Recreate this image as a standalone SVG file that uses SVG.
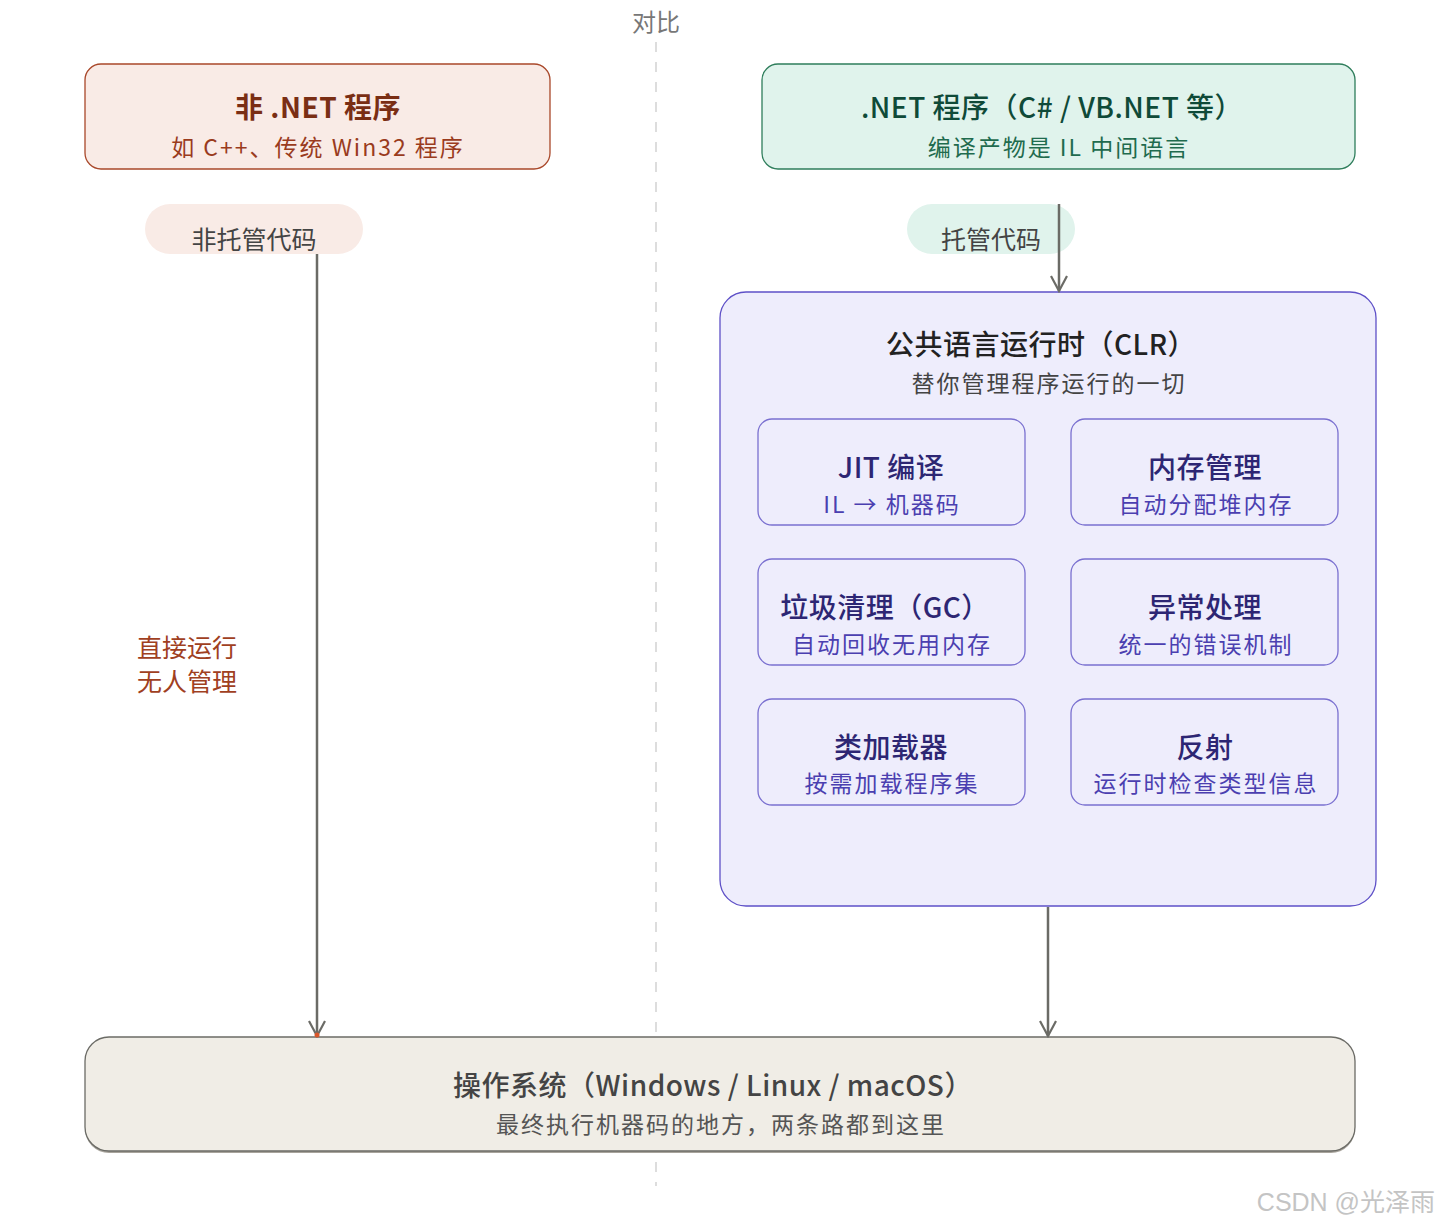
<svg xmlns="http://www.w3.org/2000/svg" width="1440" height="1228" viewBox="0 0 1440 1228">
<defs>
<style>
text{font-family:"Noto Sans CJK SC","Noto Sans",sans-serif;text-anchor:middle;dominant-baseline:central}
.t{font-size:28px;font-weight:500;letter-spacing:0.5px}
.s{font-size:23px;letter-spacing:2px}
.inner{fill:#eeedfc;stroke:#7a70d0;stroke-width:1.3}
.it{fill:#2d2673;font-size:28px;font-weight:500;letter-spacing:0.5px}
.is{fill:#4b3fb0;font-size:23px;letter-spacing:2px}
.conn{stroke:#6b6b66;stroke-width:2.5;fill:none}
</style>
<marker id="arr" viewBox="0 0 20 20" refX="18" refY="10" markerWidth="20" markerHeight="20" markerUnits="userSpaceOnUse" orient="auto">
<path d="M3 2 L18 10 L3 18" fill="none" stroke="#6b6b66" stroke-width="2.2"/>
</marker>
</defs>
<rect width="1440" height="1228" fill="#ffffff"/>

<g id="divider">
<line x1="656" y1="42" x2="656" y2="1186" stroke="#dddddd" stroke-width="2" stroke-dasharray="10 10"/>
<text x="656" y="20" style="font-size:24px;fill:#777">对比</text>
</g>

<g id="non-net">
<rect x="85" y="64" width="465" height="105" rx="16" fill="#f9ebe6" stroke="#a9482a" stroke-width="1.3"/>
<text class="t" x="318" y="106" style="fill:#7a2e14;font-weight:700">非 .NET 程序</text>
<text class="s" x="318" y="146" style="fill:#9a3b1d">如 C++、传统 Win32 程序</text>
</g>

<g id="net">
<rect x="762" y="64" width="593" height="105" rx="16" fill="#e0f3ec" stroke="#2e7d5b" stroke-width="1.3"/>
<text class="t" x="1052" y="106" style="fill:#0f4a38">.NET 程序（C# / VB.NET 等）</text>
<text class="s" x="1059" y="146" style="fill:#1f6b4e">编译产物是 IL 中间语言</text>
</g>

<g id="label-unmanaged">
<rect x="145" y="204" width="218" height="50" rx="25" fill="#f9ebe6"/>
<text x="254" y="238" style="fill:#444;font-size:25px">非托管代码</text>
</g>

<g id="label-managed">
<rect x="907" y="204" width="168" height="50" rx="25" fill="#e0f3ec"/>
<text x="991" y="238" style="fill:#444;font-size:25px">托管代码</text>
</g>

<g id="direct-label">
<text x="137" y="646" style="text-anchor:start;font-size:25px;fill:#a0401f">直接运行</text>
<text x="137" y="680" style="text-anchor:start;font-size:25px;fill:#a0401f">无人管理</text>
</g>

<g id="clr">
<rect x="720" y="292" width="656" height="614" rx="26" fill="#eeedfc" stroke="#5e50c7" stroke-width="1.3"/>
<text class="t" x="1041" y="343" style="fill:#222">公共语言运行时（CLR）</text>
<text class="s" x="1049" y="382" style="fill:#444">替你管理程序运行的一切</text>
</g>

<g id="jit">
<rect class="inner" x="758" y="419" width="267" height="106" rx="14"/>
<text class="it" x="891" y="466">JIT 编译</text>
<text class="is" x="892" y="503">IL → 机器码</text>
</g>
<g id="mem">
<rect class="inner" x="1071" y="419" width="267" height="106" rx="14"/>
<text class="it" x="1205" y="466">内存管理</text>
<text class="is" x="1206" y="503">自动分配堆内存</text>
</g>
<g id="gc">
<rect class="inner" x="758" y="559" width="267" height="106" rx="14"/>
<text class="it" x="885" y="606">垃圾清理（GC）</text>
<text class="is" x="892" y="643">自动回收无用内存</text>
</g>
<g id="exc">
<rect class="inner" x="1071" y="559" width="267" height="106" rx="14"/>
<text class="it" x="1205" y="606">异常处理</text>
<text class="is" x="1206" y="643">统一的错误机制</text>
</g>
<g id="loader">
<rect class="inner" x="758" y="699" width="267" height="106" rx="14"/>
<text class="it" x="891" y="746">类加载器</text>
<text class="is" x="892" y="782">按需加载程序集</text>
</g>
<g id="reflect">
<rect class="inner" x="1071" y="699" width="267" height="106" rx="14"/>
<text class="it" x="1205" y="746">反射</text>
<text class="is" x="1206" y="782">运行时检查类型信息</text>
</g>

<g id="os">
<rect x="85" y="1039" width="1270" height="114" rx="24" fill="#a8a49c"/>
<rect x="85" y="1037" width="1270" height="114" rx="24" fill="#f0ede6" stroke="#6b6b66" stroke-width="1.3"/>
<text class="t" x="713" y="1084" style="fill:#444">操作系统（Windows / Linux / macOS）</text>
<text class="s" x="721" y="1123" style="fill:#555">最终执行机器码的地方，两条路都到这里</text>
</g>

<g id="connectors">
<line class="conn" x1="317" y1="254" x2="317" y2="1036" marker-end="url(#arr)"/>
<circle cx="317" cy="1035" r="2.5" fill="#d9572b"/>
<line class="conn" x1="1059" y1="204" x2="1059" y2="291" marker-end="url(#arr)"/>
<line class="conn" x1="1048" y1="907" x2="1048" y2="1036" marker-end="url(#arr)"/>
</g>

<text x="1435" y="1202" style="text-anchor:end;font-family:'Liberation Sans','Noto Sans CJK SC',sans-serif;font-size:25px;fill:#c4c4c4">CSDN @光泽雨</text>
</svg>
